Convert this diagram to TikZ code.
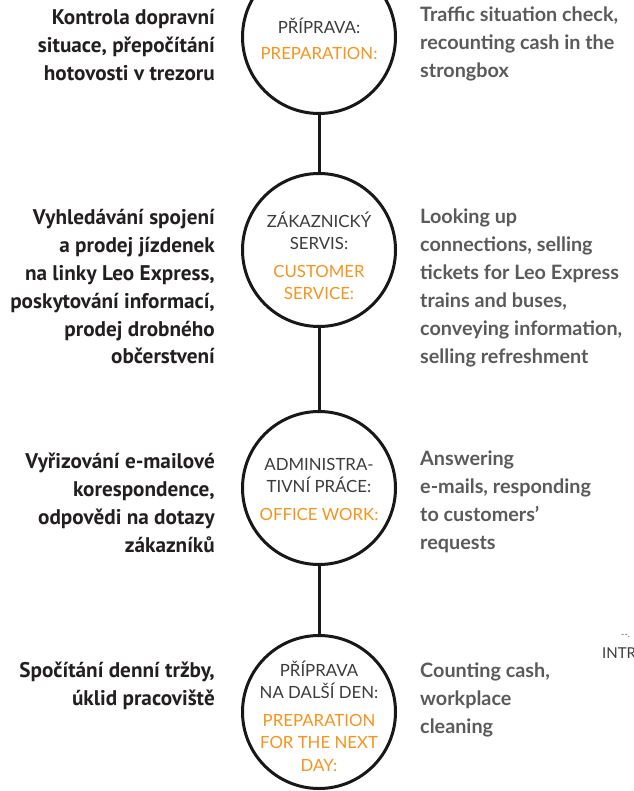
\documentclass[tikz,border=0pt]{standalone}
\usepackage{fontspec}
\setmainfont{Lato}
\newfontfamily\czfont{PT Sans}
\usepackage{xcolor}
\usetikzlibrary{positioning}
\definecolor{lxorange}{HTML}{F7941D}
\definecolor{lxgray}{HTML}{3C3C3C}
\definecolor{lxtext}{HTML}{5A5A5A}
\definecolor{lxdark}{HTML}{231F20}
\definecolor{lxline}{HTML}{1A171B}

\begin{document}
\begin{tikzpicture}[
    x=1pt, y=-1pt,
    stage/.style={circle, draw=lxline, line width=3pt, minimum size=153pt, inner sep=0pt, fill=white},
    stagetxt/.style={align=center, text=lxgray, font=\fontsize{16.8}{22.5}\selectfont, inner sep=0pt},
    link/.style={draw=lxline, line width=3pt},
    cz/.style={anchor=east, align=right, text=lxdark, font=\czfont\bfseries\fontsize{21.2}{27.8}\selectfont, inner sep=0pt},
    en/.style={anchor=west, align=left, text=lxtext, font=\bfseries\fontsize{19.8}{28}\selectfont, inner sep=0pt},
]
\useasboundingbox (0,0) rectangle (633,791);

% stages
\node[stage] (prep) at (319,37) {};
\node[stage] (serv) at (319,250) {};
\node[stage] (office) at (319,488) {};
\node[stage] (next) at (319,712) {};
\draw[link] (prep) -- (serv);
\draw[link] (serv) -- (office);
\draw[link] (office) -- (next);

\node[stagetxt] (prepT) at (319,39) {PŘÍPRAVA:\\[3pt]\textcolor{lxorange}{PREPARATION:}};
\node[stagetxt] (servT) at (319,256) {ZÁKAZNICKÝ\\SERVIS:\\[5pt]\textcolor{lxorange}{CUSTOMER}\\\textcolor{lxorange}{SERVICE:}};
\node[stagetxt] (officeT) at (319,489) {ADMINISTRA-\\TIVNÍ PRÁCE:\\[5pt]\textcolor{lxorange}{OFFICE WORK:}};
\node[stagetxt] (nextT) at (319,716) {PŘÍPRAVA\\NA DALŠÍ DEN:\\[5pt]\textcolor{lxorange}{PREPARATION}\\\textcolor{lxorange}{FOR THE NEXT}\\\textcolor{lxorange}{DAY:}};

% czech side
\node[cz] (prepCz) at (215,45) {Kontrola dopravní\\situace, přepočítání\\hotovosti v trezoru};
\node[cz] (servCz) at (215,287) {Vyhledávání spojení\\a prodej jízdenek\\na linky Leo Express,\\poskytování informací,\\prodej drobného\\občerstvení};
\node[cz] (officeCz) at (215,503) {Vyřizování e-mailové\\korespondence,\\odpovědi na dotazy\\zákazníků};
\node[cz] (nextCz) at (215,686) {Spočítání denní tržby,\\úklid pracoviště};

% english side
\node[en] (prepEn) at (420,44) {Traffic situation check,\\recounting cash in the\\strongbox};
\node[en] (servEn) at (420,288) {Looking up\\connections, selling\\tickets for Leo Express\\trains and buses,\\conveying information,\\selling refreshment};
\node[en] (officeEn) at (420,502) {Answering\\e-mails, responding\\to customers’\\requests};
\node[en] (nextEn) at (420,700) {Counting cash,\\workplace\\cleaning};

% cut-off fragment at the edge
\node[anchor=base west, inner sep=0pt, text=lxtext, font=\fontsize{9}{9}\selectfont] (introDots) at (621,637) {-{}-.};
\node[anchor=base west, inner sep=0pt, text=lxgray, font=\fontsize{15}{15}\selectfont] (intro) at (602,658) {INTR};
\end{tikzpicture}
\end{document}
